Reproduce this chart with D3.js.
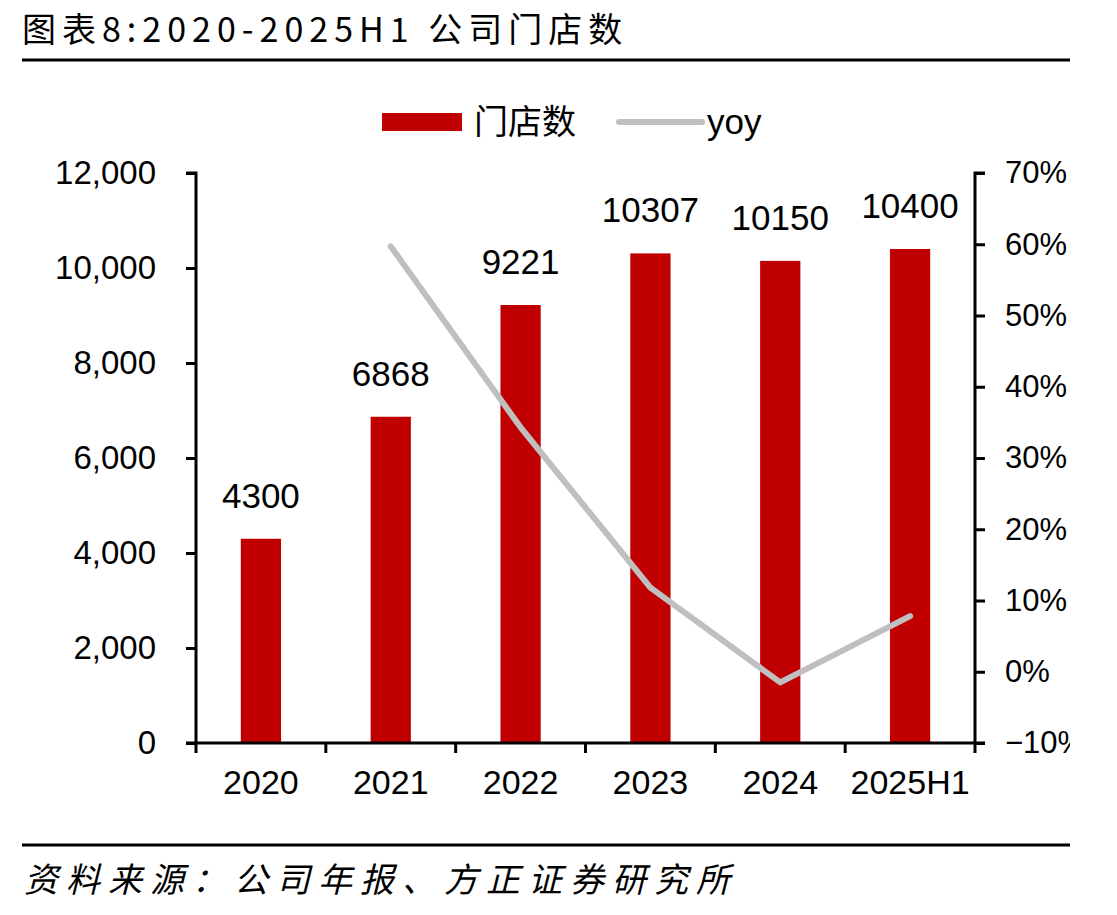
<!DOCTYPE html>
<html><head><meta charset="utf-8">
<script src="https://cdn.jsdelivr.net/npm/d3@7"></script>
<style>body{margin:0;background:#fff}svg{display:block}</style>
</head><body>
<script>
const categories = ["2020","2021","2022","2023","2024","2025H1"];
const stores = [4300, 6868, 9221, 10307, 10150, 10400];
const yoy = [null, 0.597, 0.343, 0.118, -0.015, 0.078];
const leftTicks = [0,2000,4000,6000,8000,10000,12000];
const rightTicks = [-0.1,0,0.1,0.2,0.3,0.4,0.5,0.6,0.7];

const W=1117,H=915;
const svg=d3.select("body").append("svg").attr("width",W).attr("height",H);
const L=196,R=975,T=173,B=743;
const x=d3.scaleBand().domain(categories).range([L,R]).paddingInner(0.69).paddingOuter(0.345);
const xb=d3.scaleBand().domain(categories).range([L,R]);
const y=d3.scaleLinear().domain([0,12000]).range([B,T]);
const y2=d3.scaleLinear().domain([-0.1,0.7]).range([B,T]);
const cjk='"Noto Sans CJK SC", sans-serif';
const num='"Liberation Sans", Arial, sans-serif';
const narrow='"Liberation Sans Narrow", "Liberation Sans", sans-serif';

// title
svg.append("text").attr("x",22).attr("y",42).attr("font-family",cjk).attr("font-size",34).attr("letter-spacing",6).attr("fill","#000").text("图表8:2020-2025H1 公司门店数");
svg.append("line").attr("x1",22).attr("x2",1070).attr("y1",60).attr("y2",60).attr("stroke","#000").attr("stroke-width",3);
svg.append("line").attr("x1",22).attr("x2",1070).attr("y1",845).attr("y2",845).attr("stroke","#000").attr("stroke-width",3);
svg.append("text").attr("x",24).attr("y",892).attr("font-family",cjk).attr("font-style","italic").attr("font-size",34).attr("letter-spacing",8).attr("fill","#000").text("资料来源：公司年报、方正证券研究所");

// legend
svg.append("rect").attr("x",382).attr("y",113).attr("width",80).attr("height",18).attr("fill","#C00000");
svg.append("text").attr("x",474).attr("y",134).attr("font-family",cjk).attr("font-size",34).text("门店数");
svg.append("line").attr("x1",619).attr("x2",702).attr("y1",122).attr("y2",122).attr("stroke","#BFBFBF").attr("stroke-width",6).attr("stroke-linecap","round");
svg.append("text").attr("x",707).attr("y",134).attr("font-family",num).attr("font-size",35).text("yoy");

// bars
svg.append("g").selectAll("rect").data(stores).join("rect")
 .attr("x",(d,i)=>x(categories[i])).attr("width",x.bandwidth())
 .attr("y",d=>y(d)).attr("height",d=>y(0)-y(d)).attr("fill","#C00000");
svg.append("g").selectAll("text").data(stores).join("text")
 .attr("x",(d,i)=>x(categories[i])+x.bandwidth()/2).attr("y",d=>y(d)-31)
 .attr("text-anchor","middle").attr("font-family",num).attr("font-size",35).text(d=>d);

// line
const line=d3.line().defined(d=>d!==null).x((d,i)=>xb(categories[i])+xb.bandwidth()/2).y(d=>y2(d));
svg.append("path").datum(yoy).attr("d",line).attr("fill","none").attr("stroke","#BFBFBF").attr("stroke-width",6).attr("stroke-linecap","round").attr("stroke-linejoin","round");

// left axis
const la=svg.append("g").attr("transform",`translate(${L},0)`).call(d3.axisLeft(y).tickValues(leftTicks).tickFormat(d3.format(",")).tickSize(10).tickPadding(30));
la.selectAll("path,line").attr("stroke","#000").attr("stroke-width",3);
la.selectAll("text").attr("font-family",num).attr("font-size",33).attr("fill","#000");
la.select(".domain").attr("d",`M-10,${T}H0V${B}`);

// right axis
const clip=svg.append("clipPath").attr("id","c").append("rect").attr("x",0).attr("y",0).attr("width",1070).attr("height",H);
const ra=svg.append("g").attr("clip-path","url(#c)").append("g").attr("transform",`translate(${R},0)`).call(d3.axisRight(y2).tickValues(rightTicks).tickFormat(d3.format(".0%")).tickSize(10).tickPadding(20));
ra.selectAll("path,line").attr("stroke","#000").attr("stroke-width",3);
ra.selectAll("text").attr("font-family",num).attr("font-size",31).attr("fill","#000");
ra.select(".domain").attr("d",`M10,${T}H0V${B}`);

// bottom axis
const ba=svg.append("g").attr("transform",`translate(0,${B})`);
ba.append("line").attr("x1",L-10).attr("x2",R+10).attr("y1",0).attr("y2",0).attr("stroke","#000").attr("stroke-width",3);
ba.selectAll("line.t").data(categories.concat(["end"])).join("line").attr("class","t")
 .attr("x1",(d,i)=>i<categories.length?xb(d):R).attr("x2",(d,i)=>i<categories.length?xb(d):R)
 .attr("y1",0).attr("y2",10).attr("stroke","#000").attr("stroke-width",3);
ba.selectAll("text").data(categories).join("text")
 .attr("x",d=>xb(d)+xb.bandwidth()/2).attr("y",51).attr("text-anchor","middle")
 .attr("font-family",narrow).attr("font-size",34).text(d=>d);
</script>
</body></html>
